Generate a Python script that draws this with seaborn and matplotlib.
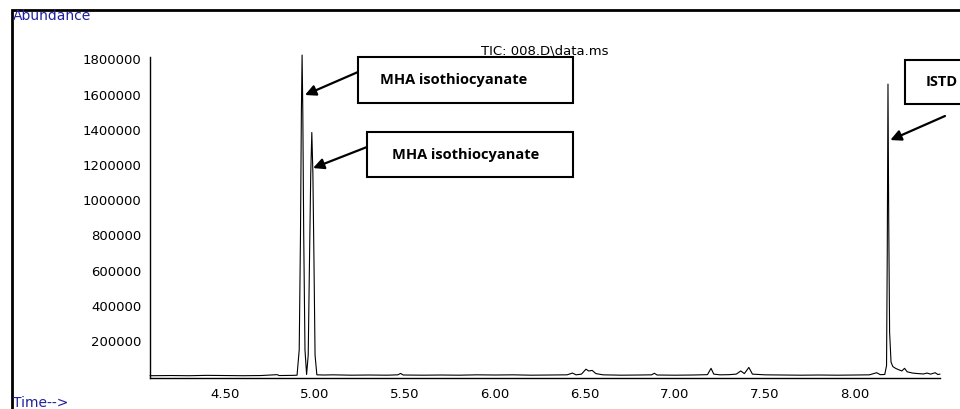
import matplotlib
matplotlib.use('Agg')
import matplotlib.pyplot as plt
import seaborn as sns
import pandas as pd
from matplotlib.patches import Rectangle
from matplotlib.ticker import MultipleLocator

# Chromatogram (TIC)
time_min = [4.083, 4.20, 4.30, 4.40, 4.50, 4.60, 4.70, 4.79, 4.80, 4.88, 4.900,
            4.912, 4.919, 4.924, 4.928, 4.932, 4.937, 4.944, 4.953,
            4.962, 4.969, 4.976, 4.982, 4.988, 4.994, 5.000, 5.010,
            5.05, 5.10, 5.20, 5.30, 5.40, 5.46, 5.475, 5.49, 5.60, 5.70, 5.80,
            5.90, 6.00, 6.10, 6.20, 6.30, 6.40, 6.43, 6.45, 6.48, 6.505, 6.52,
            6.54, 6.56, 6.60, 6.70, 6.80, 6.87, 6.885, 6.90, 7.00, 7.10, 7.18,
            7.20, 7.215, 7.25, 7.30, 7.34, 7.365, 7.385, 7.41, 7.43, 7.50, 7.60,
            7.70, 7.80, 7.90, 8.00, 8.08, 8.12, 8.14, 8.165, 8.175,
            8.179, 8.183, 8.187, 8.192, 8.200, 8.210, 8.225, 8.24, 8.26, 8.275,
            8.29, 8.32, 8.35, 8.38, 8.40, 8.42, 8.445, 8.46, 8.472]
abundance = [3000, 4000, 3000, 5000, 4000, 3000, 4000, 9000, 4000, 5000, 6000,
             150000, 800000, 1500000, 1825000, 1500000, 800000, 150000, 10000,
             120000, 650000, 1150000, 1385000, 1150000, 650000, 120000, 8000,
             7000, 8000, 6000, 7000, 6000, 8000, 16000, 7000, 6000, 7000, 6000,
             8000, 7000, 8000, 6000, 7000, 8000, 18000, 8000, 12000, 40000, 30000,
             33000, 15000, 8000, 6000, 7000, 8000, 17000, 7000, 6000, 7000, 9000,
             45000, 12000, 8000, 9000, 12000, 30000, 15000, 50000, 12000, 8000, 7000,
             6000, 7000, 6000, 7000, 8000, 20000, 9000, 10000, 60000,
             700000, 1660000, 900000, 250000, 80000, 55000, 45000, 38000, 30000, 45000,
             25000, 18000, 15000, 13000, 18000, 12000, 20000, 10000, 12000]

x_ticks = [4.50, 5.00, 5.50, 6.00, 6.50, 7.00, 7.50, 8.00]
x_labels = ['4.50', '5.00', '5.50', '6.00', '6.50', '7.00', '7.50', '8.00']
y_ticks = [200000, 400000, 600000, 800000, 1000000, 1200000, 1400000, 1600000, 1800000]
y_labels = ['200000', '400000', '600000', '800000', '1000000', '1200000',
            '1400000', '1600000', '1800000']

peak_labels = ['MHA isothiocyanate', 'MHA isothiocyanate', 'ISTD']
peak_tips = [(4.944, 1598000), (4.989, 1183000), (8.196, 1342000)]

W, H = 960, 409
BLUE = '#1f1fa0'

sns.set_style('white')
plt.rcParams['font.family'] = ['DejaVu Sans']
plt.rcParams['text.color'] = 'black'


def fx(px):
    return px / W


def fy(py):
    # pixel row from the top -> figure fraction
    return 1 - py / H


df = pd.DataFrame({'time': time_min, 'abundance': abundance})

fig = plt.figure(figsize=(W / 100, H / 100), dpi=100)
ax = fig.add_axes([fx(150), fy(378), fx(940) - fx(150), fy(57) - fy(378)])

sns.lineplot(data=df, x='time', y='abundance', ax=ax, color='black',
             lw=0.8, estimator=None, sort=False)
ax.lines[0].set_clip_on(False)

ax.set_xlim(4.083, 8.472)
ax.set_ylim(-10000, 1814000)
ax.set_xlabel('')
ax.set_ylabel('')

ax.set_xticks(x_ticks)
ax.set_xticklabels(x_labels)
ax.xaxis.set_minor_locator(MultipleLocator(0.1))
ax.set_yticks(y_ticks)
ax.set_yticklabels(y_labels)
ax.yaxis.set_minor_locator(MultipleLocator(40000))

ax.tick_params(axis='both', which='major', direction='out', length=4, width=0.8,
               labelsize=9.5, pad=2, color='black', labelcolor='black')
ax.tick_params(axis='both', which='minor', direction='out', length=2.5, width=0.6,
               color='black')
ax.tick_params(axis='x', which='major', pad=3)

for side in ['top', 'right']:
    ax.spines[side].set_visible(False)
for side in ['left', 'bottom']:
    ax.spines[side].set_color('black')
    ax.spines[side].set_linewidth(1.0)

# outer frame of the instrument printout
fig.patches.append(Rectangle((fx(12), fy(430)), fx(1000), fy(10) - fy(430),
                             transform=fig.transFigure, fill=False,
                             edgecolor='black', lw=2))

fig.text(fx(13), fy(16), 'Abundance', color=BLUE, fontsize=10,
         ha='left', va='center')
fig.text(fx(13), fy(403), 'Time-->', color=BLUE, fontsize=10,
         ha='left', va='center')
fig.text(fx(545), fy(51), 'TIC: 008.D\\data.ms', color='black', fontsize=9.5,
         ha='center', va='center')

# annotation boxes with arrows
boxes = [(358, 57, 573, 103), (367, 132, 573, 177), (905, 60, 1010, 104)]
text_pos = [(454, 80, 'center'), (466, 155, 'center'), (926, 82, 'left')]
arrow_start = [(358, 72), (367, 147), (945, 116)]

for label, tip, box, tpos, start in zip(peak_labels, peak_tips, boxes,
                                        text_pos, arrow_start):
    x0, y0, x1, y1 = box
    fig.patches.append(Rectangle((fx(x0), fy(y1)), fx(x1 - x0), fy(y0) - fy(y1),
                                 transform=fig.transFigure, fill=True,
                                 facecolor='white', edgecolor='black', lw=1.5))
    fig.text(fx(tpos[0]), fy(tpos[1]), label, fontsize=10.5, fontweight='bold',
             color='black', family=['Open Sans', 'DejaVu Sans'],
             ha=tpos[2], va='center')
    ax.annotate('', xy=tip, xycoords='data',
                xytext=(fx(start[0]), fy(start[1])), textcoords='figure fraction',
                arrowprops=dict(arrowstyle='-|>', color='black', lw=1.6,
                                mutation_scale=16, shrinkA=0, shrinkB=0))

fig.savefig('out.png', dpi=100)
